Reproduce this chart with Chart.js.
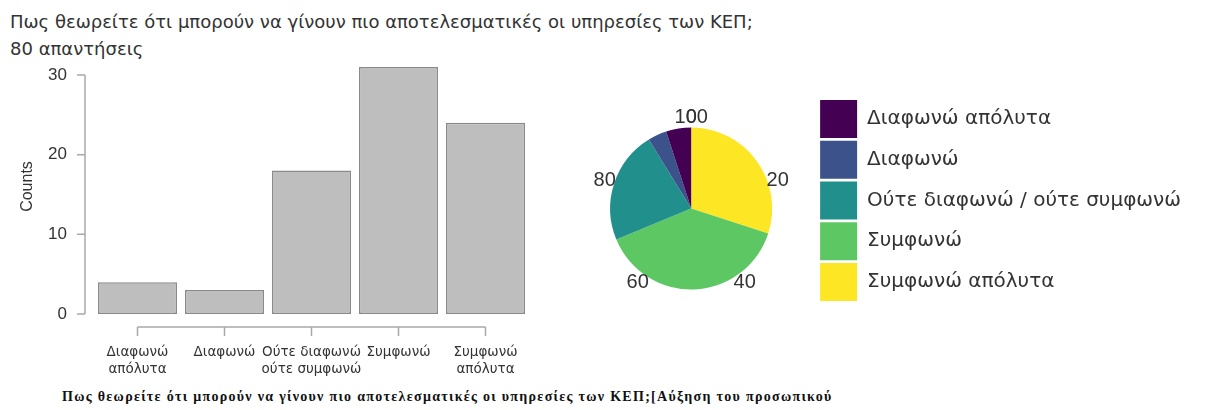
<!DOCTYPE html>
<html>
<head>
<meta charset="utf-8">
<script src="https://cdn.jsdelivr.net/npm/chart.js@4.4.1/dist/chart.umd.min.js"></script>
<style>
  html, body { margin: 0; padding: 0; background: #fff; overflow: hidden; }
  body { width: 1213px; height: 410px; position: relative; }
  #title { position: absolute; left: 10px; top: 8px; font: 18px "DejaVu Sans", sans-serif; line-height: 27px; color: #333; white-space: nowrap; }
  #caption { position: absolute; left: 62px; top: 389px; font: bold 14px "Liberation Serif", serif; letter-spacing: 1.3px; color: #111; white-space: nowrap; }
  #barWrap { position: absolute; left: 0; top: 14px; width: 560px; height: 366px; }
  #pieWrap { position: absolute; left: 565px; top: 90px; height: 240px; }
</style>
</head>
<body>
<div id="title">Πως θεωρείτε ότι μπορούν να γίνουν πιο αποτελεσματικές οι υπηρεσίες των ΚΕΠ;<br>80 απαντήσεις</div>
<div id="barWrap"><canvas id="barChart"></canvas></div>
<div id="pieWrap"><canvas id="pieChart"></canvas></div>
<div id="caption">Πως θεωρείτε ότι μπορούν να γίνουν πιο αποτελεσματικές οι υπηρεσίες των ΚΕΠ;[Αύξηση του προσωπικού</div>

<script>
// ─── Data ─────────────────────────────────────────────────────────────────────
const categories = ['Διαφωνώ απόλυτα', 'Διαφωνώ', 'Ούτε διαφωνώ / ούτε συμφωνώ', 'Συμφωνώ', 'Συμφωνώ απόλυτα'];
const barLabels = [['Διαφωνώ', 'απόλυτα'], 'Διαφωνώ', ['Ούτε διαφωνώ', 'ούτε συμφωνώ'], 'Συμφωνώ', ['Συμφωνώ', 'απόλυτα']];
const counts = [4, 3, 18, 31, 24];
const yTicks = [0, 10, 20, 30];
const pieTicks = [0, 20, 40, 60, 80, 100];
const viridis = ['#440154', '#3B528B', '#21908C', '#5DC863', '#FDE725'];

const AXIS_GREY = '#a9a9a9';
const TEXT = '#333333';

// ─── R-style detached axes for the bar chart ──────────────────────────────────
const rAxes = {
  id: 'rAxes',
  afterDraw(chart) {
    const { ctx, chartArea, scales: { x, y } } = chart;
    ctx.save();
    ctx.strokeStyle = AXIS_GREY;
    ctx.lineWidth = 1.5;
    // y axis
    const ax = chartArea.left - 9;
    ctx.beginPath();
    ctx.moveTo(ax, y.getPixelForValue(yTicks[yTicks.length - 1]));
    ctx.lineTo(ax, y.getPixelForValue(yTicks[0]));
    yTicks.forEach(v => {
      const py = y.getPixelForValue(v);
      ctx.moveTo(ax - 8, py);
      ctx.lineTo(ax, py);
    });
    ctx.stroke();
    // x axis
    const ay = y.getPixelForValue(0) + 13;
    ctx.beginPath();
    ctx.moveTo(x.getPixelForValue(0), ay);
    ctx.lineTo(x.getPixelForValue(counts.length - 1), ay);
    counts.forEach((_, i) => {
      const px = x.getPixelForValue(i);
      ctx.moveTo(px, ay);
      ctx.lineTo(px, ay + 9);
    });
    ctx.stroke();
    ctx.restore();
  }
};

// ─── Percent labels round the pie ─────────────────────────────────────────────
const pieRing = {
  id: 'pieRing',
  afterDraw(chart) {
    const arc = chart.getDatasetMeta(0).data[0];
    if (!arc) return;
    const { x, y, outerRadius } = arc.getProps(['x', 'y', 'outerRadius'], true);
    const { ctx } = chart;
    ctx.save();
    ctx.fillStyle = TEXT;
    ctx.font = '20px "Liberation Sans", Arial, sans-serif';
    ctx.textAlign = 'center';
    ctx.textBaseline = 'middle';
    const r = outerRadius + 10;
    pieTicks.forEach(t => {
      const a = -Math.PI / 2 + (t / 100) * Math.PI * 2;
      ctx.fillText(String(t), x + r * Math.cos(a), y + r * Math.sin(a));
    });
    ctx.restore();
  }
};

// ─── Bar chart ────────────────────────────────────────────────────────────────
new Chart(document.getElementById('barChart'), {
  type: 'bar',
  data: {
    labels: barLabels,
    datasets: [{
      data: counts,
      backgroundColor: '#bebebe',
      borderColor: '#8a8a8a',
      borderWidth: 1.5,
      borderSkipped: false,
      barPercentage: 0.908,
      categoryPercentage: 1,
    }],
  },
  options: {
    responsive: true,
    maintainAspectRatio: false,
    animation: false,
    layout: { padding: { top: 45, right: 31, bottom: 0, left: 0 } },
    plugins: { legend: { display: false }, tooltip: { enabled: false } },
    scales: {
      x: {
        grid: { display: false, drawTicks: false },
        border: { display: false },
        ticks: {
          autoSkip: false, maxRotation: 0, padding: 29.5, color: TEXT,
          font: { family: '"DejaVu Sans", sans-serif', size: 13.5, lineHeight: 1.26 },
        },
        afterFit(s) { s.height = 66; },
      },
      y: {
        min: 0, max: 32,
        afterBuildTicks(s) { s.ticks = yTicks.map(v => ({ value: v })); },
        grid: { display: false, drawTicks: false },
        border: { display: false },
        ticks: {
          padding: 27, color: TEXT,
          font: { family: '"Liberation Sans", Arial, sans-serif', size: 17 },
        },
        title: {
          display: true, text: 'Counts', color: TEXT,
          padding: { top: 18, bottom: 0 },
          font: { family: '"Liberation Sans", Arial, sans-serif', size: 16 },
        },
        afterFit(s) { s.width = 94; },
      },
    },
  },
  plugins: [rAxes],
});

// ─── Pie chart with legend ────────────────────────────────────────────────────
const pieLabels = [...categories].reverse();
const pieData = [...counts].reverse();
const pieColors = [...viridis].reverse();

const LEG_FONT = { family: '"DejaVu Sans", sans-serif', size: 20 };
const LEG_BOX_W = 37, LEG_PAD = 2.75;
// legend width as Chart.js computes it, so the pie area keeps its width
const mctx = document.createElement('canvas').getContext('2d');
mctx.font = `${LEG_FONT.size}px ${LEG_FONT.family}`;
const maxText = Math.max(...categories.map(c => mctx.measureText(c).width));
const legendW = Math.ceil(LEG_PAD + LEG_BOX_W + LEG_FONT.size / 2 + maxText + 10);
const PIE_AREA_W = 252;
document.getElementById('pieWrap').style.width = (PIE_AREA_W + legendW) + 'px';

new Chart(document.getElementById('pieChart'), {
  type: 'pie',
  data: {
    labels: pieLabels,
    datasets: [{
      data: pieData,
      backgroundColor: pieColors,
      borderWidth: 0,
      radius: 81,
    }],
  },
  options: {
    responsive: true,
    maintainAspectRatio: false,
    animation: false,
    layout: { padding: { top: 7.25, right: 0, bottom: 10.25, left: 0 } },
    plugins: {
      tooltip: { enabled: false },
      legend: {
        position: 'right',
        align: 'start',
        reverse: true,
        maxWidth: legendW,
        labels: {
          boxWidth: LEG_BOX_W, boxHeight: 38, padding: LEG_PAD,
          color: TEXT, font: LEG_FONT,
        },
      },
    },
  },
  plugins: [pieRing],
});
</script>
</body>
</html>
